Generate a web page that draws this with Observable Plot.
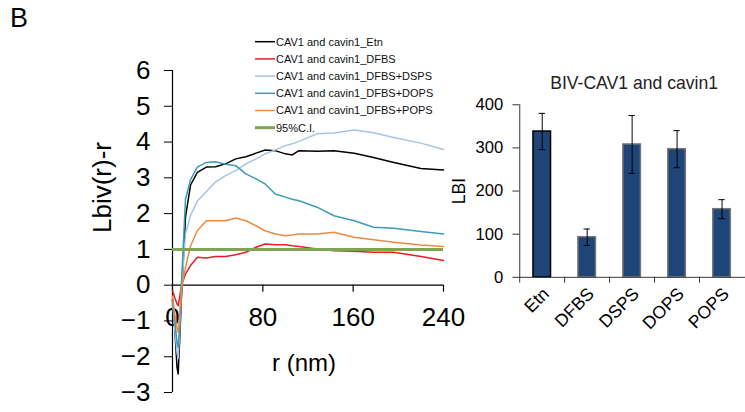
<!DOCTYPE html>
<html>
<head>
<meta charset="utf-8">
<script src="https://cdn.jsdelivr.net/npm/d3@7"></script>
<script src="https://cdn.jsdelivr.net/npm/@observablehq/plot@0.6"></script>
<style>
  html, body { margin: 0; padding: 0; background: #fff; overflow: hidden; }
  body { width: 745px; height: 412px; position: relative; font-family: "Liberation Sans", Arial, sans-serif; }
  .abs { position: absolute; }
</style>
</head>
<body>
<div class="abs" id="panel" style="left:10px; top:5px; font-size:27px; line-height:1; color:#000;">B</div>
<div class="abs" id="left" style="left:0; top:0; width:470px; height:412px;"></div>
<div class="abs" id="legend" style="left:250px; top:32px;"></div>
<div class="abs" id="right" style="left:445px; top:0; width:300px; height:412px; overflow:hidden;"></div>
<script>
// ---------- Left panel data: Lbiv(r)-r ----------
const rValues = [0, 2, 4, 5, 6, 8, 11.5, 16, 22, 30, 38, 47, 56, 65, 74, 82, 91, 100, 106, 112, 128, 143, 161, 178, 196, 220, 240];
const seriesNames = ["CAV1 and cavin1_Etn", "CAV1 and cavin1_DFBS", "CAV1 and cavin1_DFBS+DSPS", "CAV1 and cavin1_DFBS+DOPS", "CAV1 and cavin1_DFBS+POPS"];
const etn  = [-0.4, -1.2, -2.3, -2.48, -1.8, -0.3, 1.9, 2.8, 3.15, 3.3, 3.31, 3.39, 3.53, 3.59, 3.69, 3.78, 3.76, 3.67, 3.64, 3.76, 3.74, 3.76, 3.69, 3.57, 3.43, 3.26, 3.22];
const dfbs = [-0.15, -0.35, -0.52, -0.57, -0.4, 0.0, 0.31, 0.55, 0.78, 0.76, 0.8, 0.8, 0.85, 0.92, 1.06, 1.15, 1.13, 1.13, 1.1, 1.08, 1.01, 0.96, 0.95, 0.92, 0.92, 0.8, 0.69];
const dsps = [-0.45, -1.2, -1.9, -2.05, -1.5, -0.1, 1.43, 1.95, 2.35, 2.62, 2.88, 3.06, 3.2, 3.39, 3.53, 3.67, 3.78, 3.9, 3.95, 4.02, 4.23, 4.25, 4.34, 4.26, 4.13, 3.97, 3.79];
const dops = [-0.45, -1.0, -1.6, -1.74, -1.3, 0.1, 2.4, 2.95, 3.3, 3.43, 3.45, 3.38, 3.34, 3.11, 2.97, 2.83, 2.55, 2.46, 2.4, 2.36, 2.18, 1.94, 1.8, 1.62, 1.59, 1.5, 1.43];
const pops = [-0.3, -0.8, -1.2, -1.32, -1.0, -0.1, 0.5, 1.1, 1.52, 1.8, 1.8, 1.8, 1.88, 1.8, 1.66, 1.52, 1.43, 1.38, 1.4, 1.43, 1.43, 1.48, 1.34, 1.27, 1.2, 1.12, 1.08];
const ciName = "95%C.I.";
const ciValue = 1;
const lineColors = ["#000000", "#e41e24", "#a7c3e6", "#3c9bb6", "#ea8a43"];
const ciColor = "#7fa452";
const xTicks = [0, 80, 160, 240];
const yTicks = [-3, -2, -1, 0, 1, 2, 3, 4, 5, 6];

// ---------- Right panel data: LBI ----------
const categories = ["Etn", "DFBS", "DSPS", "DOPS", "POPS"];
const lbi = [338, 93, 308, 297, 158];
const lbiErr = [42, 19, 67, 43, 22];
const lbiTicks = [0, 100, 200, 300, 400];
const barTitle = "BIV-CAV1 and cavin1";

const FONT = "'Liberation Sans', Arial, Helvetica, sans-serif";

// long table for lines
const allSeries = [etn, dfbs, dsps, dops, pops];
const lineRows = [];
allSeries.forEach((vals, si) => vals.forEach((v, i) => lineRows.push({series: seriesNames[si], r: rValues[i], v})));

const left = Plot.plot({
  width: 470, height: 412,
  marginLeft: 172, marginRight: 27, marginTop: 70, marginBottom: 20,
  style: {fontFamily: FONT, background: "transparent", overflow: "visible", color: "#000"},
  x: {domain: [0, 240], axis: null},
  y: {domain: [-3, 6]},
  color: {domain: seriesNames, range: lineColors},
  marks: [
    Plot.axisY(yTicks, {tickSize: 8, tickPadding: 14, fontSize: 26, label: null}),
    Plot.ruleX([0], {stroke: "#000", strokeWidth: 1.2}),
    Plot.ruleY([0], {stroke: "#000", strokeWidth: 1.2}),
    Plot.ruleX(xTicks, {x: d => d, y1: 0, y2: 0, insetBottom: -7, stroke: "#000", strokeWidth: 1.2}),
    Plot.text(xTicks, {x: d => d, y: 0, dy: 33, text: d => String(d), fontSize: 26}),
    Plot.line(lineRows, {x: "r", y: "v", z: "series", stroke: "series", strokeWidth: 1.5}),
    Plot.ruleY([ciValue], {stroke: ciColor, strokeWidth: 3}),
    Plot.text(["Lbiv(r)-r"], {frameAnchor: "left", textAnchor: "middle", lineAnchor: "middle", dx: -70, dy: -44, rotate: -90, fontSize: 26}),
    Plot.text(["r (nm)"], {frameAnchor: "bottom", textAnchor: "middle", lineAnchor: "middle", dx: -4, dy: -29, fontSize: 24})
  ]
});
document.getElementById("left").appendChild(left);

// legend
const legendItems = seriesNames.map((n, i) => ({name: n, color: lineColors[i], w: 1.5})).concat([{name: ciName, color: ciColor, w: 3}]);
const lg = d3.create("svg").attr("width", 220).attr("height", 110).style("font-family", FONT).style("overflow", "visible");
legendItems.forEach((it, i) => {
  const y = 9.7 + i * 17.2;
  lg.append("line").attr("x1", 5).attr("x2", 25).attr("y1", y).attr("y2", y).attr("stroke", it.color).attr("stroke-width", it.w);
  lg.append("text").attr("x", 26).attr("y", y).attr("dy", "0.35em").attr("font-size", 11).attr("fill", "#111").text(it.name);
});
document.getElementById("legend").appendChild(lg.node());

// bar chart
const barRows = categories.map((c, i) => ({cat: c, v: lbi[i], e: lbiErr[i]}));
const right = Plot.plot({
  width: 307, height: 412,
  marginLeft: 76, marginRight: 0, marginTop: 106.7, marginBottom: 128.7,
  style: {fontFamily: FONT, background: "transparent", overflow: "visible", color: "#000"},
  x: {domain: categories, paddingInner: 0.6, paddingOuter: 0.3, axis: null},
  y: {domain: [0, 400]},
  marks: [
    Plot.barY(barRows, {x: "cat", y: "v", fill: "#1f4478", stroke: d => d.cat === "Etn" ? "#000" : "#777", strokeWidth: 1.5}),
    Plot.ruleX(barRows, {x: "cat", y1: d => d.v - d.e, y2: d => d.v + d.e, stroke: "#000", strokeWidth: 1}),
    Plot.tickY(barRows, {x: "cat", y: d => d.v + d.e, insetLeft: 5.75, insetRight: 5.75, stroke: "#000", strokeWidth: 1}),
    Plot.tickY(barRows, {x: "cat", y: d => d.v - d.e, insetLeft: 5.75, insetRight: 5.75, stroke: "#000", strokeWidth: 1}),
    Plot.axisY(lbiTicks, {tickSize: 7, tickPadding: 10, fontSize: 17, label: null, stroke: "#333"}),
    Plot.frame({anchor: "left", stroke: "#333"}),
    Plot.ruleY([0], {stroke: "#333", strokeWidth: 1}),
    Plot.ruleX(categories, {x: d => d, y1: 0, y2: 0, insetBottom: -6, dx: -23.07, stroke: "#333"}),
    Plot.text(categories, {x: d => d, y: 0, dy: 14, dx: 4, rotate: -45, textAnchor: "end", lineAnchor: "middle", fontSize: 18}),
    Plot.text(["LBI"], {frameAnchor: "left", textAnchor: "middle", lineAnchor: "middle", dx: -62, rotate: -90, fontSize: 18}),
    Plot.text([barTitle], {frameAnchor: "top", textAnchor: "middle", lineAnchor: "middle", dx: 1.5, dy: -22, fontSize: 18, fill: "#222"})
  ]
});
document.getElementById("right").appendChild(right);
</script>
</body>
</html>
